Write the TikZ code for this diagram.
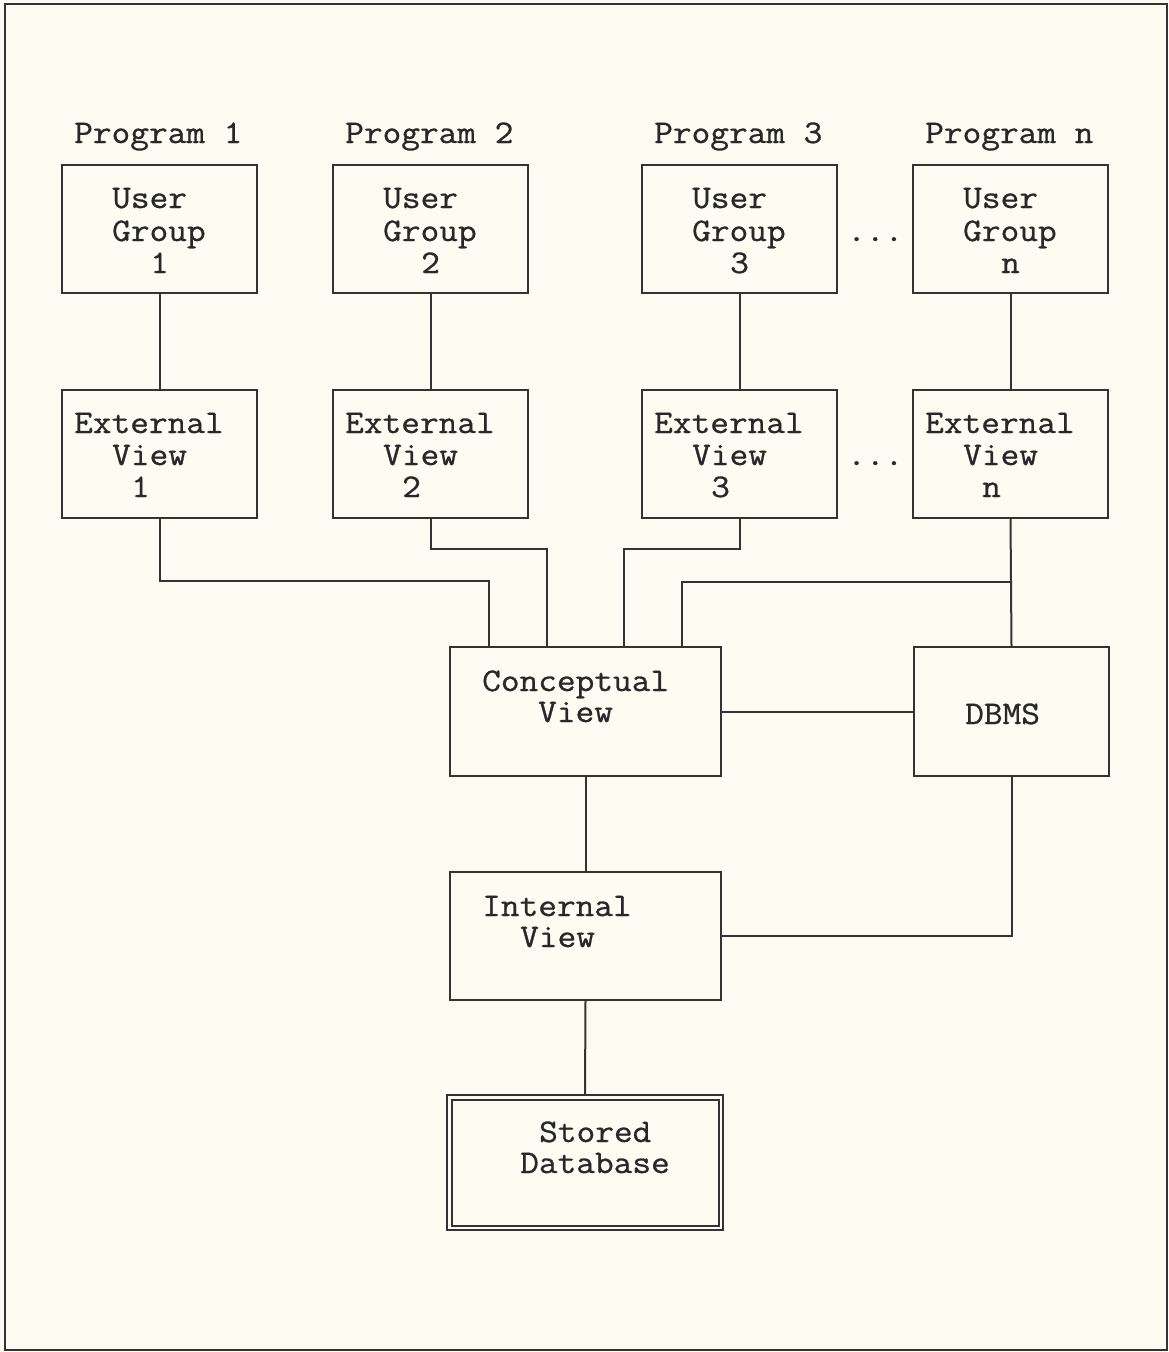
\documentclass[tikz,border=0pt]{standalone}
\usepackage{fontspec}
\setmonofont{Latin Modern Mono}[FakeStretch=1.1,FakeBold=0.8]
\definecolor{paper}{RGB}{252,252,243}
\definecolor{inkc}{RGB}{51,51,51}
\definecolor{textc}{RGB}{40,40,40}
\begin{document}
\begin{tikzpicture}[x=1pt,y=-1pt,
  ink/.style={draw=inkc, line width=2pt},
  box/.style={ink, rectangle, inner sep=0pt, minimum width=195pt, minimum height=128pt},
  bigbox/.style={ink, rectangle, inner sep=0pt, minimum width=271pt, minimum height=129pt},
  txt/.style={inner sep=0pt, anchor=base west, text=textc,
    font=\fontsize{33pt}{34pt}\selectfont\ttfamily},
  wire/.style={ink}]
% page and outer frame
\useasboundingbox (0,0) rectangle (1169,1352);
\fill[paper] (0,0) rectangle (1169,1352);
\draw[ink] (5,4) rectangle (1167,1350);

% program headings
\node[txt] (p1) at (74,143) {Program 1};
\node[txt] (p2) at (345,143) {Program 2};
\node[txt] (p3) at (654,143) {Program 3};
\node[txt] (pn) at (925,143) {Program n};

% user group boxes
\node[box] (ug1) at (159.5,229) {};
\node[box] (ug2) at (430.5,229) {};
\node[box] (ug3) at (739.5,229) {};
\node[box] (ugn) at (1010.5,229) {};
\foreach \nm/\x/\k in {a/112/1, b/383/2, c/692/3, d/963/n}{
  \node[txt] (ug\nm1) at (\x,208) {User};
  \node[txt] (ug\nm2) at (\x,241) {Group};
  \node[txt] (ug\nm3) at (\x+38,273) {\k};
}
\node[txt] (dots1) at (847,241) {...};

% external view boxes
\node[box] (ev1) at (159.5,453.5) {};
\node[box] (ev2) at (430.5,453.5) {};
\node[box] (ev3) at (739.5,453.5) {};
\node[box] (evn) at (1010.5,453.5) {};
\foreach \nm/\x/\k in {a/74/1, b/345/2, c/654/3, d/925/n}{
  \node[txt] (ev\nm1) at (\x,433) {External};
  \node[txt] (ev\nm2) at (\x+38,465) {View};
  \node[txt] (ev\nm3) at (\x+57,497) {\k};
}
\node[txt] (dots2) at (847,465) {...};

% conceptual level and DBMS
\node[bigbox] (cv) at (585.5,711.5) {};
\node[txt] (cv1) at (482,691) {Conceptual};
\node[txt] (cv2) at (538,722) {View};
\node[box, minimum height=129pt] (dbms) at (1011.5,711.5) {};
\node[txt] (dbmst) at (965,724) {DBMS};

% internal level
\node[bigbox, minimum height=128pt] (iv) at (585.5,936) {};
\node[txt] (iv1) at (482,916) {Internal};
\node[txt] (iv2) at (520,947) {View};

% stored database (double border)
\node[ink, rectangle, inner sep=0pt, minimum width=276pt, minimum height=135pt] (sd) at (585,1162.5) {};
\draw[ink] ([shift={(5.5,5.5)}]sd.north west) rectangle ([shift={(-5.5,-5.5)}]sd.south east);
\node[txt] (sd1) at (539,1142) {Stored};
\node[txt] (sd2) at (520,1173) {Database};

% connectors
\draw[wire] (ug1.south) -- (ev1.north);
\draw[wire] (ug2.south) -- (ev2.north);
\draw[wire] (ug3.south) -- (ev3.north);
\draw[wire] (ugn.south) -- (evn.north);

\draw[wire] (ev1.south) |- (489,581) -- (489,0 |- cv.north);
\draw[wire] (ev2.south) |- (547,549) -- (547,0 |- cv.north);
\draw[wire] (ev3.south) |- (624,549) -- (624,0 |- cv.north);
\draw[wire] (evn.south) -- (dbms.north);
\coordinate (tap) at (1010.5,582);
\draw[wire] (tap) -| (682,0 |- cv.north);

\draw[wire] (cv.east) -- (dbms.west);
\draw[wire] (cv.south) -- (iv.north);
\draw[wire] (iv.east) -| (dbms.south);
\draw[wire] (iv.south) -- (sd.north);
\end{tikzpicture}
\end{document}
